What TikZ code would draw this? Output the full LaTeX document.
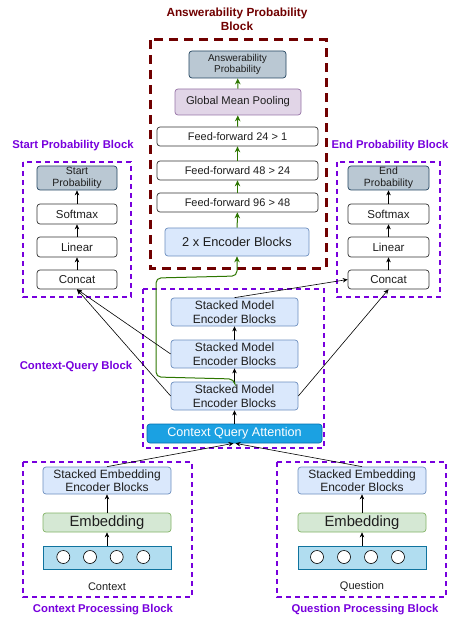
\documentclass[tikz,border=0pt]{standalone}
\usepackage{fontspec}
\setmainfont{Liberation Sans}
\usetikzlibrary{arrows.meta}
\definecolor{darkred}{RGB}{112,0,0}
\definecolor{purp}{RGB}{119,0,221}
\definecolor{grayblue}{RGB}{186,200,211}
\definecolor{grayblueb}{RGB}{35,68,95}
\definecolor{lilac}{RGB}{225,213,231}
\definecolor{lilacb}{RGB}{150,115,166}
\definecolor{lblue}{RGB}{218,232,252}
\definecolor{lblueb}{RGB}{108,142,191}
\definecolor{lgreen}{RGB}{213,232,212}
\definecolor{lgreenb}{RGB}{130,179,102}
\definecolor{cqafill}{RGB}{27,161,226}
\definecolor{cqab}{RGB}{0,110,175}
\definecolor{inpfill}{RGB}{177,221,240}
\definecolor{inpb}{RGB}{16,115,158}
\definecolor{gline}{RGB}{45,118,0}
\definecolor{txt}{RGB}{30,30,30}
\tikzset{
  bx/.style={draw, rounded corners=3pt, inner sep=0pt, align=center, text=txt, line width=0.7pt},
  wbox/.style={bx, fill=white, draw=black!80, font=\fontsize{11}{12}\selectfont},
  gbbox/.style={bx, fill=grayblue, draw=grayblueb, font=\fontsize{10}{11}\selectfont},
  lbbox/.style={bx, fill=lblue, draw=lblueb},
  arr/.style={-{Stealth[length=5pt,width=4.5pt]}, line width=0.6pt, black},
  garr/.style={-{Stealth[length=6pt,width=5.5pt]}, line width=1pt, gline},
  pdash/.style={draw=purp, line width=1.6pt, dash pattern=on 5pt off 4pt},
  rdash/.style={draw=darkred, line width=3pt, dash pattern=on 9pt off 6pt},
  ptitle/.style={text=purp, font=\bfseries\fontsize{11.3}{13}\selectfont},
  circ/.style={circle, draw=black, fill=white, minimum size=13pt, inner sep=0pt, line width=0.6pt}
}
\begin{document}
\begin{tikzpicture}[x=1pt,y=-1pt]
\useasboundingbox (0,0) rectangle (448,617);
% ---------- Answerability block ----------
\node[text=darkred, font=\bfseries\fontsize{11.8}{14}\selectfont, align=center] (atitle) at (237,19) {Answerability Probability\\Block};
\draw[rdash] (150,40) rectangle (326,268);
\node[gbbox, minimum width=97pt, minimum height=27pt] (ap) at (237.5,64.5) {Answerability\\Probability};
\node[bx, fill=lilac, draw=lilacb, minimum width=126pt, minimum height=26pt, font=\fontsize{11.2}{13}\selectfont] (gmp) at (238,102) {Global Mean Pooling};
\node[wbox, minimum width=161pt, minimum height=19pt] (ff1) at (237.5,136.5) {Feed-forward 24 > 1};
\node[wbox, minimum width=161pt, minimum height=19pt] (ff2) at (237.5,170.5) {Feed-forward 48 > 24};
\node[wbox, minimum width=161pt, minimum height=19pt] (ff3) at (237.5,202.5) {Feed-forward 96 > 48};
\node[lbbox, minimum width=144pt, minimum height=28pt, font=\fontsize{12.8}{14}\selectfont] (enc2) at (237,242) {2 x Encoder Blocks};
\draw[garr] (enc2) -- (ff3);
\draw[garr] (ff3) -- (ff2);
\draw[garr] (ff2) -- (ff1);
\draw[garr] (ff1) -- (gmp);
\draw[garr] (gmp) -- (ap);
% ---------- Start block ----------
\node[ptitle] (stitle) at (73,146) {Start Probability Block};
\draw[pdash] (23,162) rectangle (131,297);
\node[gbbox, minimum width=80pt, minimum height=24pt, font=\fontsize{10.5}{11.5}\selectfont] (sp) at (77,178) {Start\\Probability};
\node[wbox, minimum width=80pt, minimum height=20pt, font=\fontsize{11.5}{12}\selectfont] (ssm) at (77,214) {Softmax};
\node[wbox, minimum width=80pt, minimum height=20pt, font=\fontsize{11.5}{12}\selectfont] (slin) at (77,247) {Linear};
\node[wbox, minimum width=80pt, minimum height=19pt, font=\fontsize{11.5}{12}\selectfont] (scat) at (77,279.5) {Concat};
\draw[arr] (scat) -- (slin);
\draw[arr] (slin) -- (ssm);
\draw[arr] (ssm) -- (sp);
% ---------- End block ----------
\node[ptitle] (etitle) at (390,146) {End Probability Block};
\draw[pdash] (337,162) rectangle (440,297);
\node[gbbox, minimum width=81pt, minimum height=24pt, font=\fontsize{10.5}{11.5}\selectfont] (ep) at (388.5,178) {End\\Probability};
\node[wbox, minimum width=81pt, minimum height=20pt, font=\fontsize{11.5}{12}\selectfont] (esm) at (388.5,214) {Softmax};
\node[wbox, minimum width=81pt, minimum height=20pt, font=\fontsize{11.5}{12}\selectfont] (elin) at (388.5,247) {Linear};
\node[wbox, minimum width=81pt, minimum height=19pt, font=\fontsize{11.5}{12}\selectfont] (ecat) at (388.5,279.5) {Concat};
\draw[arr] (ecat) -- (elin);
\draw[arr] (elin) -- (esm);
\draw[arr] (esm) -- (ep);
% ---------- Context-Query block ----------
\node[ptitle] (cqtitle) at (76,367) {Context-Query Block};
\draw[pdash] (143,289) rectangle (324,448);
\node[lbbox, minimum width=127pt, minimum height=28pt, font=\fontsize{12}{13.5}\selectfont] (sme1) at (234.5,312) {Stacked Model\\Encoder Blocks};
\node[lbbox, minimum width=127pt, minimum height=28pt, font=\fontsize{12}{13.5}\selectfont] (sme2) at (234.5,354) {Stacked Model\\Encoder Blocks};
\node[lbbox, minimum width=127pt, minimum height=28pt, font=\fontsize{12}{13.5}\selectfont] (sme3) at (234.5,396) {Stacked Model\\Encoder Blocks};
\node[bx, fill=cqafill, draw=cqab, text=white, minimum width=175pt, minimum height=19pt, font=\fontsize{12.6}{13}\selectfont] (cqa) at (234.5,433.5) {Context Query Attention};
\draw[arr] (cqa) -- (sme3);
\draw[arr] (sme3) -- (sme2);
\draw[arr] (sme2) -- (sme1);
\coordinate (g1) at (234,379);
\draw[garr, rounded corners=5pt] (sme3.north) -- (g1) -- (156,377) -- (156,278) -- (237,276) -- (enc2.south);
% connectors to start/end
\draw[arr] (sme2.west) -- (scat.south);
\draw[arr] (sme3.west) -- (scat.south);
\draw[arr] (sme1.north) -- (ecat.west);
\draw[arr] (sme3.east) -- (ecat.south);
% ---------- Context processing ----------
\draw[pdash] (23,462) rectangle (192,597);
\node[ptitle] (ctitle) at (103,610) {Context Processing Block};
\node[lbbox, minimum width=128pt, minimum height=27pt, font=\fontsize{12}{13.5}\selectfont] (cseeb) at (107,480.5) {Stacked Embedding\\Encoder Blocks};
\node[bx, fill=lgreen, draw=lgreenb, minimum width=128pt, minimum height=19pt, font=\fontsize{14.8}{15}\selectfont] (cemb) at (107,522.5) {Embedding};
\node[draw=inpb, fill=inpfill, line width=0.7pt, minimum width=128pt, minimum height=23pt, inner sep=0pt] (cinp) at (107,557.5) {};
\node[circ] (cc1) at (63.3,557) {};
\node[circ] (cc2) at (90,557) {};
\node[circ] (cc3) at (116.7,557) {};
\node[circ] (cc4) at (143.3,557) {};
\node[font=\fontsize{11}{12}\selectfont, text=txt] (clab) at (107,587) {Context};
\draw[arr] (cinp) -- (cemb);
\draw[arr] (cemb) -- (cseeb);
% ---------- Question processing ----------
\draw[pdash] (277,462) rectangle (446,597);
\node[ptitle] (qtitle) at (365,610) {Question Processing Block};
\node[lbbox, minimum width=128pt, minimum height=27pt, font=\fontsize{12}{13.5}\selectfont] (qseeb) at (362,480.5) {Stacked Embedding\\Encoder Blocks};
\node[bx, fill=lgreen, draw=lgreenb, minimum width=128pt, minimum height=19pt, font=\fontsize{14.8}{15}\selectfont] (qemb) at (362,522.5) {Embedding};
\node[draw=inpb, fill=inpfill, line width=0.7pt, minimum width=128pt, minimum height=23pt, inner sep=0pt] (qinp) at (362,557.5) {};
\node[circ] (qc1) at (317,557) {};
\node[circ] (qc2) at (344,557) {};
\node[circ] (qc3) at (371,557) {};
\node[circ] (qc4) at (398,557) {};
\node[font=\fontsize{11}{12}\selectfont, text=txt] (qlab) at (362,587) {Question};
\draw[arr] (qinp) -- (qemb);
\draw[arr] (qemb) -- (qseeb);
% to CQA
\draw[arr] (cseeb.north) -- ([xshift=-1pt]cqa.south);
\draw[arr] (qseeb.north) -- ([xshift=1pt]cqa.south);
\end{tikzpicture}
\end{document}
